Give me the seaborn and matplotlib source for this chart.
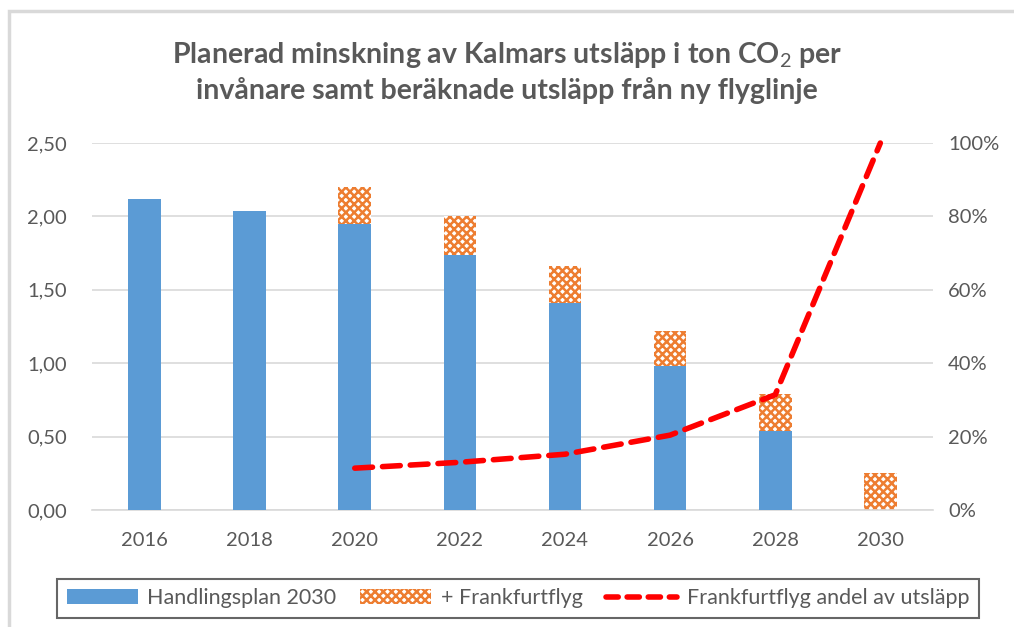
import numpy as np
import pandas as pd
import matplotlib
matplotlib.use("Agg")
import matplotlib.pyplot as plt
import seaborn as sns
from matplotlib.patches import Patch, Rectangle
from matplotlib.lines import Line2D
from matplotlib.ticker import FuncFormatter, MultipleLocator

# ---- data ----
years = ["2016", "2018", "2020", "2022", "2024", "2026", "2028", "2030"]
handlingsplan = [2.12, 2.04, 1.95, 1.74, 1.41, 0.98, 0.54, 0.0]
total_with_flights = [np.nan, np.nan, 2.20, 2.00, 1.66, 1.22, 0.79, 0.25]
flight_share = [np.nan, np.nan, 0.114, 0.13, 0.152, 0.204, 0.314, 1.00]

title = "Planerad minskning av Kalmars utsläpp i ton CO$_2$ per\ninvånare samt beräknade utsläpp från ny flyglinje"
lbl_bar = "Handlingsplan 2030"
lbl_hatch = "+ Frankfurtflyg"
lbl_line = "Frankfurtflyg andel av utsläpp"

BLUE = "#5b9bd5"
ORANGE = "#ed7d31"
RED = "#ff0000"
GRAY = "#595959"
GRID = "#d9d9d9"

sns.set_theme(style="white")
plt.rcParams["font.family"] = ["Lato", "DejaVu Sans"]
plt.rcParams["mathtext.fontset"] = "custom"
plt.rcParams["mathtext.rm"] = "Lato"
plt.rcParams["mathtext.bf"] = "Lato:bold"
plt.rcParams["hatch.linewidth"] = 1.8
plt.rcParams["hatch.color"] = ORANGE

df = pd.DataFrame({"year": years, "plan": handlingsplan,
                   "total": total_with_flights, "share": flight_share})

fig = plt.figure(figsize=(10.14, 6.27), dpi=100)
ax = fig.add_axes([0.0907, 0.1866, 0.8293, 0.5853])

# hatched total bars (behind)
sns.barplot(data=df, x="year", y="total", ax=ax, color="white", width=0.31,
            edgecolor="none", hatch="xxxx", linewidth=0, saturation=1, zorder=2)
for p in ax.patches:
    p.set_facecolor("white")
    p.set_edgecolor(ORANGE)
    p.set_linewidth(0)
# blue bars on top
sns.barplot(data=df, x="year", y="plan", ax=ax, color=BLUE, width=0.31,
            saturation=1, linewidth=0, zorder=3)

ax.set_ylim(0, 2.5)
ax.yaxis.set_major_locator(MultipleLocator(0.5))
ax.yaxis.set_major_formatter(FuncFormatter(lambda v, _: f"{v:.2f}".replace(".", ",")))
ax.set_xlim(-0.5, len(years) - 0.5)
ax.set_xlabel("")
ax.set_ylabel("")
ax.grid(axis="y", color=GRID, linewidth=1.2, zorder=0)
ax.set_axisbelow(True)
for s in ["top", "right", "left"]:
    ax.spines[s].set_visible(False)
ax.spines["bottom"].set_color(GRID)
ax.spines["bottom"].set_linewidth(1.2)
ax.tick_params(axis="both", length=0, labelsize=14.5, labelcolor=GRAY)
ax.tick_params(axis="y", pad=18)
ax.tick_params(axis="x", pad=16)

# line on secondary axis
ax2 = ax.twinx()
xpos = np.arange(len(years))
sns.lineplot(x=xpos, y=df["share"], ax=ax2, color=RED, linewidth=4.0, zorder=5)
for ln in ax2.lines:
    ln.set_linestyle((0, (3.2, 1.8)))
    ln.set_dash_capstyle("round")
    ln.set_clip_on(False)
ax2.set_ylim(0, 1.0)
ax2.yaxis.set_major_locator(MultipleLocator(0.2))
ax2.yaxis.set_major_formatter(FuncFormatter(lambda v, _: f"{v*100:.0f}%"))
ax2.set_ylabel("")
for s in ["top", "right", "left", "bottom"]:
    ax2.spines[s].set_visible(False)
ax2.tick_params(axis="y", length=0, labelsize=14.5, labelcolor=GRAY, pad=11)
ax2.set_xlim(-0.5, len(years) - 0.5)

fig.text(0.5, 0.885, title, ha="center", va="center", fontsize=20.5,
         fontweight="bold", color=GRAY, linespacing=1.3)

handles = [Patch(facecolor=BLUE, edgecolor="none", label=lbl_bar),
           Patch(facecolor="white", edgecolor=ORANGE, hatch="xxxx", linewidth=0, label=lbl_hatch),
           Line2D([0], [0], color=RED, linewidth=4.0, linestyle=(0, (2.2, 1.6)),
                  dash_capstyle="round", label=lbl_line)]
leg = fig.legend(handles=handles, loc="center", bbox_to_anchor=(0.511, 0.0455),
                 ncol=3, frameon=True, fancybox=False, fontsize=15.5,
                 handlelength=3.3, handletextpad=0.45, columnspacing=1.1,
                 borderpad=0.45)
leg.get_frame().set_edgecolor("#404040")
leg.get_frame().set_linewidth(1.5)
for t in leg.get_texts():
    t.set_color(GRAY)

# chart outer border (top and left visible)
fig.add_artist(Rectangle((9 / 1014, -0.1), 1.2, 1 - 11 / 627 + 0.1,
                         transform=fig.transFigure, fill=False,
                         edgecolor=GRID, linewidth=2.5))

fig.savefig("out.png", dpi=100, facecolor="white")
